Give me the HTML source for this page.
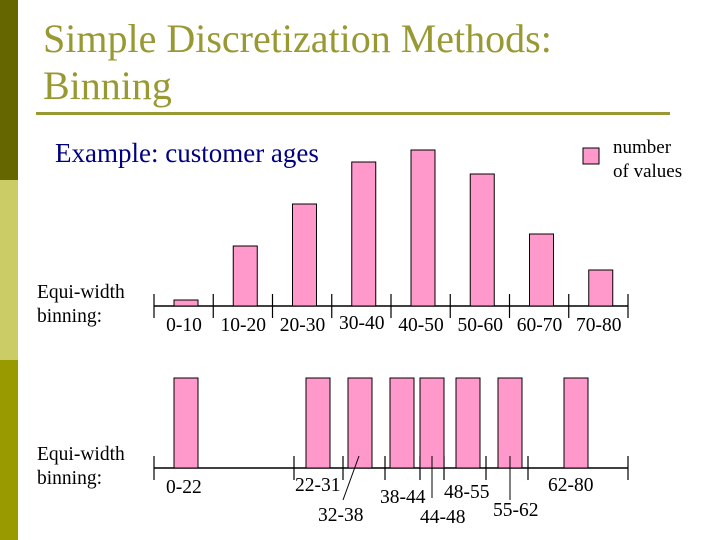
<!DOCTYPE html>
<html><head><meta charset="utf-8"><style>
body{margin:0;width:720px;height:540px;background:#fff;overflow:hidden;position:relative;font-family:"Liberation Serif",serif}
.abs{position:absolute;white-space:nowrap}
</style></head><body>
<div class="abs" style="left:0;top:0;width:18px;height:180px;background:#666600"></div>
<div class="abs" style="left:0;top:180px;width:18px;height:180px;background:#cccc66"></div>
<div class="abs" style="left:0;top:360px;width:18px;height:180px;background:#999900"></div>
<div class="abs" style="left:43px;top:15px;font-size:40px;line-height:47px;color:#999933">Simple Discretization Methods:<br>Binning</div>
<div class="abs" style="left:36px;top:112px;width:634px;height:3px;background:#999933"></div>
<div class="abs" style="left:55px;top:138px;font-size:27px;color:#000080">Example: customer ages</div>
<div class="abs" style="left:37px;top:281px;font-size:19.5px;line-height:24px">Equi-width<br>binning:</div>
<div class="abs" style="left:37px;top:443px;font-size:19.5px;line-height:24px">Equi-width<br>binning:</div>
<div class="abs" style="left:613px;top:136px;font-size:19px;line-height:24px">number<br>of values</div>
<svg class="abs" style="left:0;top:0" width="720" height="540" id="chart"></svg>
<script>
const cats1=["0-10","10-20","20-30","30-40","40-50","50-60","60-70","70-80"];
const vals1=[6,60,102,144,156,132,72,36];
const ticks2=[0,22,31,38,44,48,55,62,80];
const vals2=[90,90,90,90,90,90,90,90];
const cats2=["0-22","22-31","32-38","38-44","44-48","48-55","55-62","62-80"];
const NS="http://www.w3.org/2000/svg";
const svg=document.getElementById('chart');
function mk(t,a){const e=document.createElementNS(NS,t);for(const k in a)e.setAttribute(k,a[k]);svg.appendChild(e);return e;}
const x1=i=>154+i*59.25, y1=v=>306-v;
let ax=mk('line',{x1:154,y1:306,x2:628,y2:306,stroke:'#000','stroke-width':1.5});


for(let i=0;i<=cats1.length;i++){let t=mk('line',{x1:x1(i),y1:294,x2:x1(i),y2:318,stroke:'#000','stroke-width':1.2});

}
cats1.forEach((c,i)=>{
 let r=mk('rect',{x:x1(i)+20,y:y1(vals1[i]),width:24,height:vals1[i],fill:'#ff99cc',stroke:'#000','stroke-width':1});
 
 
 let t=mk('text',{x:x1(i)+30,y:i==3?329:331,'font-size':19.5,'text-anchor':'middle','font-family':'Liberation Serif'});
 t.textContent=c;
 
 
});
let lg=mk('rect',{x:583,y:148,width:16,height:16,fill:'#ff99cc',stroke:'#000','stroke-width':1});


const tickPx=[154,294,343,385,420,444,486,528,628];
const barX=[174,306,348,390,420,456,498,564];
let ax2=mk('line',{x1:154,y1:468,x2:628,y2:468,stroke:'#000','stroke-width':1.5});


ticks2.forEach((v,i)=>{let t=mk('line',{x1:tickPx[i],y1:456,x2:tickPx[i],y2:480,stroke:'#000','stroke-width':1.2});

});
vals2.forEach((v,i)=>{let r=mk('rect',{x:barX[i],y:468-v,width:24,height:v,fill:'#ff99cc',stroke:'#000','stroke-width':1});

});
const lab=[[166,493],[295,491],[318,521],[380,503],[420,523],[444,498],[493,516],[548,491]];
cats2.forEach((c,i)=>{let t=mk('text',{x:lab[i][0],y:lab[i][1],'font-size':19.5,'font-family':'Liberation Serif'});
t.textContent=c;

});
[[359,456,343,500],[432,456,432,498],[510,456,510,500]].forEach(l=>{let e=mk('line',{x1:l[0],y1:l[1],x2:l[2],y2:l[3],stroke:'#000','stroke-width':1});

});
</script>
</body></html>
